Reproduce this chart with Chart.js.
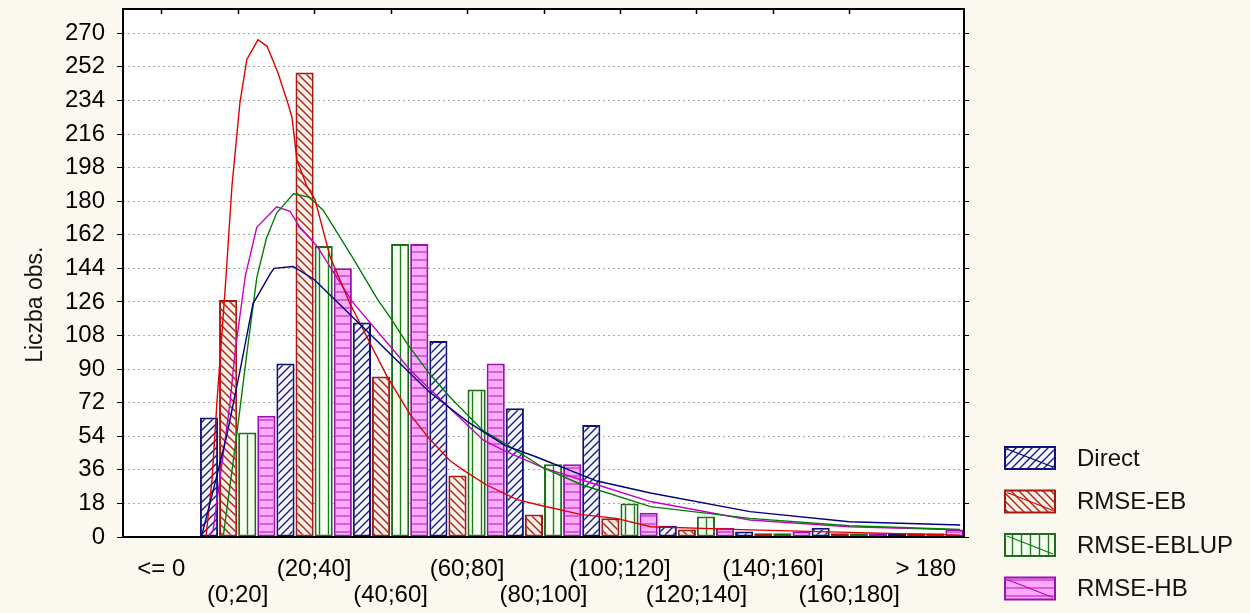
<!DOCTYPE html>
<html>
<head>
<meta charset="utf-8">
<title>Liczba obs.</title>
<script src="https://cdn.jsdelivr.net/npm/chart.js@4.4.1/dist/chart.umd.min.js"></script>
<style>
  html, body { margin: 0; padding: 0; background: #fbf9ef; }
  #chart { display: block; }
</style>
</head>
<body>
<canvas id="chart" width="1250" height="613"></canvas>
<script>
"use strict";

/* categories (class intervals) */
var categories = ["<= 0", "(0;20]", "(20;40]", "(40;60]", "(60;80]", "(80;100]",
                  "(100;120]", "(120;140]", "(140;160]", "(160;180]", "> 180"];
/* class edges: <= 0 is drawn as (-20;0], > 180 as (180;200] */
var classEdges = [-20, 0, 20, 40, 60, 80, 100, 120, 140, 160, 180, 200];

/* counts per class */
var direct    = [0, 64, 93, 115, 105, 69, 60, 6, 3, 5, 2];
var rmseEB    = [0, 127, 249, 86, 33, 12, 10, 4, 2, 2, 2];
var rmseEBLUP = [0, 56, 156, 157, 79, 39, 18, 11, 2, 2, 2];
var rmseHB    = [0, 65, 144, 157, 93, 39, 13, 5, 3, 2, 4];

var yTicks = [0, 18, 36, 54, 72, 90, 108, 126, 144, 162, 180, 198, 216, 234, 252, 270];
var yTitle = "Liczba obs.";

/* fitted (expected) frequency curves (x in the same units as the classes) */
var directFitX = [0.5, 3.6, 7.1, 10.6, 14, 18.5, 19.5, 24.5, 30, 40, 50, 60, 70, 80, 88, 104, 118, 144, 170, 199];
var directFitY = [0, 25, 54, 89, 125, 141, 144, 145, 138, 118, 98, 78, 62, 49, 43, 30, 23.6, 13.6, 8.2, 6.4];

var ebFitX = [1.7, 3.3, 4.6, 6.9, 8.5, 10.6, 12.4, 15.3, 17.7, 20.5, 22.9, 24.2, 25.5, 28.1, 30.2, 34.2, 39.4, 44.6, 49.1, 55, 60, 65.5, 68.9, 75, 83.1, 89.1, 100, 109, 118, 144, 170, 199];
var ebFitY = [0, 31, 73, 138, 188, 233, 256, 266.5, 263, 249, 234, 225, 202, 188, 181, 150, 125, 104, 86, 66, 53, 41, 36, 28, 20, 17, 12, 10, 5.5, 3.8, 2.5, 1];

var eblupFitX = [6.2, 7.5, 9.7, 12.5, 15, 17.5, 20.2, 24.6, 28.9, 32.4, 40, 46.7, 49.8, 54.2, 60, 65.5, 74.2, 80, 90, 100, 118, 144, 170, 199];
var eblupFitY = [0, 20, 54, 100, 139, 160, 173.6, 184, 182, 175, 150, 127, 118, 104, 88, 75, 57, 50, 37, 28, 16.3, 10, 6, 4];

var hbFitX = [2.5, 3.6, 8, 9.3, 12, 15, 20.2, 23.7, 26.3, 30.7, 40, 50, 55.1, 65.5, 74.2, 80, 90, 104, 118, 144, 170, 199];
var hbFitY = [0, 4, 72, 99, 140, 166, 177, 174.5, 166, 156, 126, 102, 89.5, 69, 52, 46, 37, 28, 19, 9.1, 5.5, 3.8];

var classWidth = classEdges[1] - classEdges[0];
var FONT = '"Liberation Sans", Arial, sans-serif';

function hatch(bg, fg, kind, size) {
    var c = document.createElement("canvas");
    c.width = size; c.height = size;
    var g = c.getContext("2d");
    g.fillStyle = bg;
    g.fillRect(0, 0, size, size);
    g.strokeStyle = fg;
    g.lineWidth = 1.4;
    g.beginPath();
    if (kind === "/") {
        g.moveTo(-1, size + 1); g.lineTo(size + 1, -1);
        g.moveTo(-1, 1); g.lineTo(1, -1);
        g.moveTo(size - 1, size + 1); g.lineTo(size + 1, size - 1);
    } else if (kind === "\\") {
        g.moveTo(-1, -1); g.lineTo(size + 1, size + 1);
        g.moveTo(size - 1, -1); g.lineTo(size + 1, 1);
        g.moveTo(-1, size - 1); g.lineTo(1, size + 1);
    } else if (kind === "|") {
        g.moveTo(size / 2, 0); g.lineTo(size / 2, size);
    } else {
        g.moveTo(0, size / 2); g.lineTo(size, size / 2);
    }
    g.stroke();
    return g.createPattern(c, "repeat");
}

// class value -> position on the category axis (index units, 0 = centre of "<= 0")
function toIndex(v) {
    return (v - classEdges[0]) / classWidth - 0.5;
}
function pts(xs, ys) {
    return xs.map(function (x, i) { return { x: toIndex(x), y: ys[i] }; });
}

Chart.defaults.font.family = FONT;
Chart.defaults.font.size = 24;
Chart.defaults.color = "#000";

var barColors = ["#10107a", "#a41a10", "#1c6e1c", "#9a10b0"];
var fitColors = ["#000080", "#e00000", "#008000", "#c800c8"];

var fills = [
    hatch("#f6f6ff", "#1a1a8c", "/", 8),
    hatch("#fff0ea", "#a82818", "\\", 8),
    hatch("#f6fff2", "#1c7a1c", "|", 9),
    hatch("#ffaaff", "#c040c8", "-", 8)
];

function barSet(label, data, i) {
    return {
        type: "bar", label: label, data: data, order: 1,
        backgroundColor: fills[i], borderColor: barColors[i],
        borderWidth: 2, borderSkipped: false,
        categoryPercentage: 1.0, barPercentage: 0.95
    };
}
function fitSet(label, xs, ys, i) {
    return {
        type: "line", label: label, data: pts(xs, ys), order: 0,
        parsing: false, normalized: true,
        borderColor: fitColors[i], borderWidth: 1.4,
        pointRadius: 0, fill: false, tension: 0
    };
}

var paintArea = {
    id: "paintArea",
    beforeDraw: function (chart) {
        var a = chart.chartArea, ctx = chart.ctx;
        ctx.save();
        ctx.fillStyle = "#ffffff";
        ctx.fillRect(a.left, a.top, a.right - a.left, a.bottom - a.top);
        ctx.restore();
    },
    afterDatasetsDraw: function (chart) {
        var a = chart.chartArea, ctx = chart.ctx, sx = chart.scales.x;
        ctx.save();
        ctx.strokeStyle = "#000";
        ctx.lineWidth = 2;
        ctx.strokeRect(a.left, a.top, a.right - a.left, a.bottom - a.top);
        ctx.lineWidth = 1.5;
        ctx.beginPath();
        classEdges.slice(1, -1).forEach(function (e) {
            var px = Math.round(sx.getPixelForValue(toIndex(e) - 0.5)) + 0.5;
            ctx.moveTo(px, a.top); ctx.lineTo(px, a.top + 5);
        });
        ctx.stroke();
        // y axis title, a bit below the middle of the axis as in the original
        ctx.translate(36, a.top + (a.bottom - a.top) * 0.56);
        ctx.rotate(-Math.PI / 2);
        ctx.fillStyle = "#111";
        ctx.font = "23px " + FONT;
        ctx.textAlign = "center";
        ctx.textBaseline = "middle";
        ctx.fillText(yTitle, 0, 0);
        ctx.restore();
    }
};

var sideLegend = {
    id: "sideLegend",
    afterDraw: function (chart) {
        var ctx = chart.ctx;
        var bars = chart.data.datasets.filter(function (d) { return d.type === "bar"; });
        ctx.save();
        bars.forEach(function (ds, i) {
            var cy = 458 + i * 43.5;
            ctx.fillStyle = ds.backgroundColor;
            ctx.fillRect(1005, cy - 11, 50, 22);
            ctx.strokeStyle = ds.borderColor;
            ctx.lineWidth = 2;
            ctx.strokeRect(1005, cy - 11, 50, 22);
            ctx.strokeStyle = fitColors[i];
            ctx.lineWidth = 1.2;
            ctx.beginPath();
            ctx.moveTo(1007, cy - 9); ctx.lineTo(1053, cy + 9);
            ctx.stroke();
            ctx.fillStyle = "#111";
            ctx.font = "24px " + FONT;
            ctx.textBaseline = "middle";
            ctx.fillText(ds.label, 1077, cy + 1);
        });
        ctx.restore();
    }
};

function noPad(s) {
    s.paddingTop = 0;
    s.paddingBottom = 0;
}

var ctx = document.getElementById("chart");
var myChart = new Chart(ctx, {
    type: "bar",
    data: {
        labels: categories,
        datasets: [
            barSet("Direct", direct, 0),
            barSet("RMSE-EB", rmseEB, 1),
            barSet("RMSE-EBLUP", rmseEBLUP, 2),
            barSet("RMSE-HB", rmseHB, 3),
            fitSet("Direct fit", directFitX, directFitY, 0),
            fitSet("RMSE-EB fit", ebFitX, ebFitY, 1),
            fitSet("RMSE-EBLUP fit", eblupFitX, eblupFitY, 2),
            fitSet("RMSE-HB fit", hbFitX, hbFitY, 3)
        ]
    },
    options: {
        responsive: false,
        animation: false,
        layout: { padding: { top: 9, left: 0, right: 0, bottom: 0 } },
        plugins: { legend: { display: false }, tooltip: { enabled: false } },
        scales: {
            x: {
                type: "category",
                offset: true,
                grid: { display: false },
                border: { display: false },
                ticks: {
                    autoSkip: false, maxRotation: 0, minRotation: 0, padding: 11,
                    font: { size: 24, lineHeight: 1.1 },
                    callback: function (v, i) {
                        return i % 2 === 0 ? [categories[i], ""] : ["", categories[i]];
                    }
                },
                afterFit: function (s) { s.height = 76; }
            },
            y: {
                min: 0, max: 283,
                position: "left",
                afterBuildTicks: function (s) { s.ticks = yTicks.map(function (v) { return { value: v }; }); },
                grid: { color: "#a8a8a8", tickColor: "#000", tickLength: 6, tickBorderDash: [] },
                border: { display: false, dash: [2, 3] },
                ticks: { padding: 12, font: { size: 24 } },
                afterFit: function (s) { s.width = 123; noPad(s); }
            },
            y2: {
                min: 0, max: 283,
                position: "right",
                afterBuildTicks: function (s) { s.ticks = yTicks.map(function (v) { return { value: v }; }); },
                grid: { drawOnChartArea: false, tickColor: "#000", tickLength: 5 },
                border: { display: false },
                ticks: { display: false },
                afterFit: function (s) { s.width = 286; noPad(s); }
            }
        }
    },
    plugins: [paintArea, sideLegend]
});
</script>
</body>
</html>
